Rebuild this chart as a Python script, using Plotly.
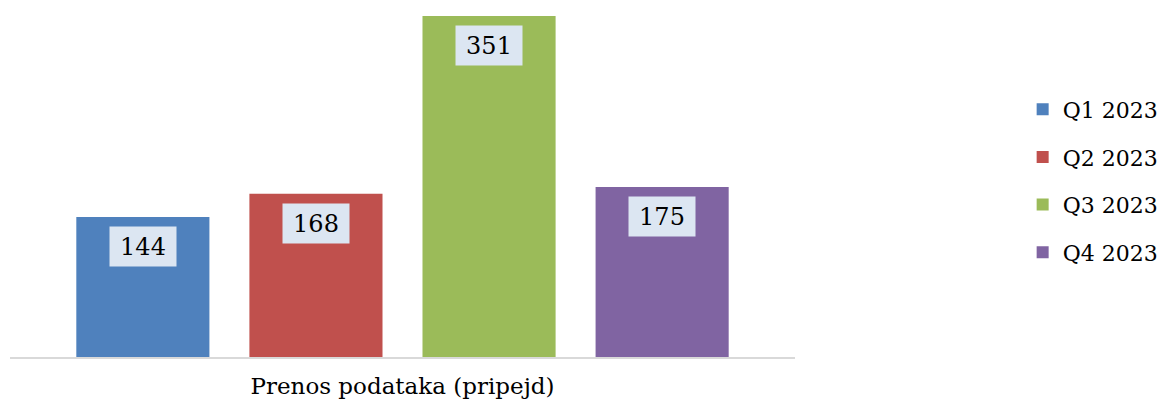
import plotly.graph_objects as go

category = ["Prenos podataka (pripejd)"]
series_names = ["Q1 2023", "Q2 2023", "Q3 2023", "Q4 2023"]
values = [144, 168, 351, 175]
colors = ["#4f81bd", "#c0504d", "#9bbb59", "#8064a2"]

FONT = "DejaVu Serif"
bargap = 0.118
bargroupgap = 0.231

fig = go.Figure()
for i, (name, v, c) in enumerate(zip(series_names, values, colors)):
    fig.add_trace(go.Bar(
        x=category, y=[v], name=name, marker=dict(color=c, line=dict(width=0)),
        legendgroup=name, hoverinfo="skip",
    ))

# label boxes placed at bar centres computed from the bar layout
n = len(values)
slot = (1 - bargap) / n
for i, v in enumerate(values):
    xc = -(1 - bargap) / 2 + slot * (i + 0.5)
    fig.add_annotation(
        x=xc, y=v, xref="x", yref="y", text=str(v), showarrow=False,
        yanchor="top", yshift=-9, bgcolor="#dce6f2", width=64, height=37,
        borderpad=1, font=dict(family=FONT, size=24, color="#000000"),
    )

fig.update_layout(
    width=1164, height=406,
    margin=dict(l=10, r=369, t=16, b=49, autoexpand=False),
    paper_bgcolor="white", plot_bgcolor="white",
    bargap=bargap, bargroupgap=bargroupgap, barmode="group",
    font=dict(family=FONT, size=22, color="#000000"),
    legend=dict(x=1.29, xanchor="left", y=0.516, yanchor="middle",
                xref="paper", yref="paper", tracegroupgap=16,
                font=dict(family=FONT, size=22, color="#000000")),
    showlegend=True,
)
fig.update_xaxes(type="category", range=[-0.5, 0.5], showline=True,
                 linecolor="#d9d9d9", linewidth=1.5, ticks="",
                 automargin=False, ticklabelstandoff=8,
                 tickfont=dict(family=FONT, size=23, color="#000000"))
fig.update_yaxes(range=[0, 351], visible=False, showgrid=False, automargin=False)

fig.write_html("out.html", config={"displayModeBar": False},
               post_script="document.body.style.margin='0';document.body.style.overflow='hidden';")
